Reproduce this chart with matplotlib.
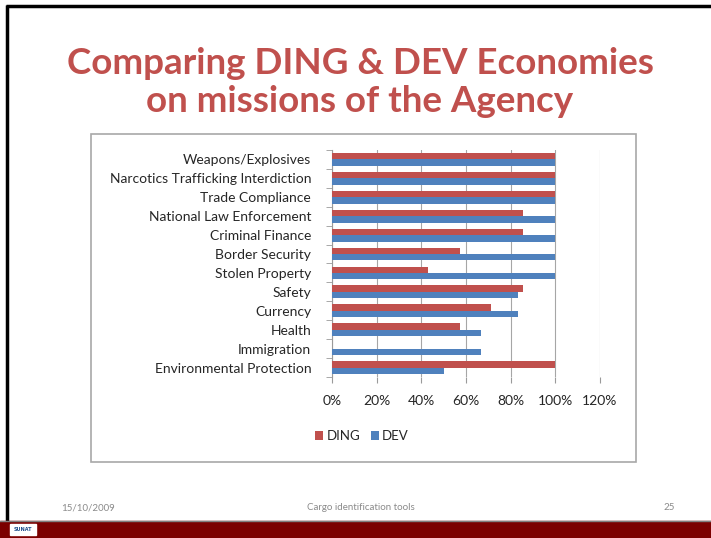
import matplotlib
matplotlib.use('Agg')
import matplotlib.pyplot as plt
from matplotlib.patches import Rectangle
import numpy as np

W, H = 711, 538

categories = ["Weapons/Explosives", "Narcotics Trafficking Interdiction", "Trade Compliance",
              "National Law Enforcement", "Criminal Finance", "Border Security", "Stolen Property",
              "Safety", "Currency", "Health", "Immigration", "Environmental Protection"]
ding = [1.0, 1.0, 1.0, 0.857, 0.857, 0.571, 0.429, 0.857, 0.714, 0.571, 0.0, 1.0]
dev = [1.0, 1.0, 1.0, 1.0, 1.0, 1.0, 1.0, 0.833, 0.833, 0.667, 0.667, 0.5]
x_ticks = [0, 0.2, 0.4, 0.6, 0.8, 1.0, 1.2]
x_labels = ["0%", "20%", "40%", "60%", "80%", "100%", "120%"]

RED = '#C0504D'
BLUE = '#4F81BD'
FONT = 'Lato'
TXT = '#262626'

fig = plt.figure(figsize=(W / 100, H / 100), dpi=100)
fig.patch.set_facecolor('white')

# slide background, frame, footer
bg = fig.add_axes([0, 0, 1, 1])
bg.set_xlim(0, W)
bg.set_ylim(H, 0)
bg.axis('off')
bg.plot([6, W], [5.5, 5.5], color='black', lw=2.5, solid_capstyle='butt')
bg.plot([6.5, 6.5], [4.5, 521], color='black', lw=2.5, solid_capstyle='butt')
bg.add_patch(Rectangle((0, 521), W, 17, color='#7B0000', zorder=2))
bg.plot([0, W], [520.5, 520.5], color='#808080', lw=1, zorder=3)
bg.add_patch(Rectangle((10, 524), 26, 11, color='white', zorder=3))
bg.text(23, 529.5, "SUNAT", fontsize=3.5, color='#1F4E8C', fontweight='bold',
        ha='center', va='center', zorder=4)
bg.add_patch(Rectangle((90.5, 133.5), 545, 328, facecolor='white',
                       edgecolor='#A8A8A8', lw=1.2))

bg.text(360, 64, "Comparing DING & DEV Economies", color=RED, fontsize=26.5,
        fontweight='bold', family=FONT, ha='center', va='center')
bg.text(360, 101, "on missions of the Agency", color=RED, fontsize=26.5,
        fontweight='bold', family=FONT, ha='center', va='center')

bg.text(88, 508, "15/10/2009", color='#8A8A8A', fontsize=7, family=FONT, ha='center', va='center')
bg.text(361, 508, "Cargo identification tools", color='#8A8A8A', fontsize=7, family=FONT,
        ha='center', va='center')
bg.text(669, 508, "25", color='#8A8A8A', fontsize=7, family=FONT, ha='center', va='center')

# bar chart
x0, x1, y0, y1 = 332, 600, 150, 377
ax = fig.add_axes([x0 / W, 1 - y1 / H, (x1 - x0) / W, (y1 - y0) / H])
ax.set_facecolor('none')
y = np.arange(len(categories))[::-1]
h = 0.34
ax.barh(y + h / 2, ding, height=h, color=RED, label='DING', zorder=3)
ax.barh(y - h / 2, dev, height=h, color=BLUE, label='DEV', zorder=3)
ax.set_ylim(-0.5, len(categories) - 0.5)
ax.set_xlim(0, 1.2)
ax.set_xticks(x_ticks)
ax.set_xticklabels(x_labels, family=FONT, fontsize=10, color=TXT)
ax.set_yticks(y)
ax.set_yticklabels(categories, family=FONT, fontsize=10, color=TXT)
ax.set_yticks(np.arange(len(categories) + 1) - 0.5, minor=True)
ax.tick_params(axis='y', which='major', length=0, pad=15)
ax.tick_params(axis='y', which='minor', length=4, color='#9A9A9A')
ax.tick_params(axis='x', length=4, color='#9A9A9A', pad=9)
ax.grid(axis='x', color='#A6A6A6', lw=0.8, zorder=0)
for side in ['top', 'right', 'bottom']:
    ax.spines[side].set_visible(False)
ax.spines['left'].set_color('#9A9A9A')

leg = fig.legend(loc='center', bbox_to_anchor=(362 / W, 1 - 436 / H), ncol=2, frameon=False,
                 prop={'family': FONT, 'size': 9.5}, handlelength=0.6, handleheight=0.6,
                 handletextpad=0.25, columnspacing=0.8)
for t in leg.get_texts():
    t.set_color(TXT)

fig.savefig('out.png', dpi=100)
